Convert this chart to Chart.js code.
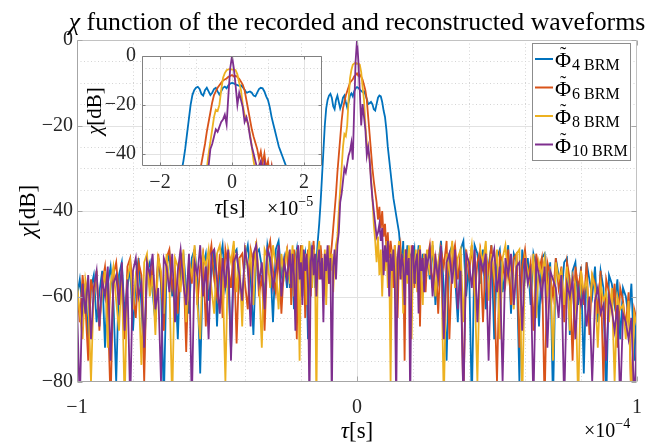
<!DOCTYPE html>
<html><head><meta charset="utf-8">
<script src="https://cdn.jsdelivr.net/npm/chart.js@4/dist/chart.umd.min.js"></script>
<style>
html,body{margin:0;padding:0;background:#fff;}
#wrap{position:relative;width:646px;height:443px;overflow:hidden;}
canvas{position:absolute;left:0;top:0;}
</style></head><body>
<div id="wrap"><canvas id="main" width="646" height="443"></canvas><canvas id="inset" width="646" height="443"></canvas></div>
<script>
// ---- sample grid: delay tau in microseconds (1e-6 s) ----
const tauLeft = [-100,-99,-98,-97,-96,-95,-94,-93,-92,-91,-90,-89,-88,-87,-86,-85,-84,-83,-82,-81,-80,-79,-78,-77,-76,-75,-74,-73,-72,-71,-70,-69,-68,-67,-66,-65,-64,-63,-62,-61,-60,-59,-58,-57,-56,-55,-54,-53,-52,-51,-50,-49,-48,-47,-46,-45,-44,-43,-42,-41,-40,-39,-38,-37,-36,-35,-34,-33,-32,-31,-30,-29,-28,-27,-26,-25];
const tauCenter = [-24.5,-24,-23.5,-23,-22.5,-22,-21.5,-21,-20.5,-20,-19.5,-19,-18.5,-18,-17.5,-17,-16.5,-16,-15.5,-15,-14.5,-14,-13.5,-13,-12.5,-12,-11.5,-11,-10.5,-10,-9.5,-9,-8.5,-8,-7.5,-7,-6.5,-6,-5.5,-5,-4.5,-4,-3.5,-3,-2.5,-2,-1.5,-1,-0.5,0,0.5,1,1.5,2,2.5,3,3.5,4,4.5,5,5.5,6,6.5,7,7.5,8,8.5,9,9.5,10,10.5,11,11.5,12,12.5,13,13.5,14,14.5,15,15.5,16,16.5,17,17.5,18,18.5,19,19.5,20,20.5,21,21.5,22,22.5,23,23.5,24,24.5];
const tauRight = [25,26,27,28,29,30,31,32,33,34,35,36,37,38,39,40,41,42,43,44,45,46,47,48,49,50,51,52,53,54,55,56,57,58,59,60,61,62,63,64,65,66,67,68,69,70,71,72,73,74,75,76,77,78,79,80,81,82,83,84,85,86,87,88,89,90,91,92,93,94,95,96,97,98,99,100];

// ---- chi values in dB ----
const phi4Left = [-60,-56,-63,-57,-70,-58,-55,-66,-59,-54,
 -72,-57,-53,-61,-80,-55,-52,-64,-58,-53,
 -68,-56,-51,-62,-75,-54,-52,-59,-66,-51,
 -57,-85,-53,-50,-60,-55,-70,-52,-50,-58,
 -64,-51,-49,-56,-78,-53,-50,-61,-55,-49,
 -67,-52,-48,-58,-54,-73,-50,-49,-57,-62,
 -51,-48,-55,-69,-50,-49,-53,-60,-48,-52,
 -66,-49,-47,-55,-51,-58];
const phi4Center = [-52,-58,-50,-55,-63,-51,-49,-57,-53,-48,
 -60,-52,-50,-56,-70,-51,-49,-54,-48,-58,
 -52,-47,-43,-38,-32,-26,-20,-16,-14,-13,
 -12.6,-13.5,-15.5,-16.2,-14,-13,-14.5,-16,-15,-13.5,
 -13,-14.5,-15.8,-14.5,-13,-12.5,-13.2,-12,-11.3,-11,
 -11.2,-11.6,-11.9,-12.2,-12,-12.8,-13.8,-15,-14.8,-14.5,
 -15,-16.2,-16.5,-15,-13.5,-13,-13.2,-14.5,-16.5,-18,
 -21,-25,-28,-31,-34,-37,-39,-41,-43,-45,
 -49,-53,-47,-60,-52,-48,-55,-50,-65,-51,
 -49,-57,-52,-48,-61,-53,-50,-58,-54];
const phi4Right = [-50,-56,-48,-62,-53,-47,-58,-75,-50,-48,
 -55,-66,-49,-47,-60,-52,-85,-48,-50,-57,
 -49,-63,-53,-48,-70,-51,-49,-59,-54,-48,
 -64,-50,-52,-80,-49,-56,-51,-62,-50,-53,
 -67,-51,-50,-58,-52,-85,-51,-55,-60,-52,
 -51,-69,-54,-52,-62,-53,-78,-52,-56,-60,
 -53,-66,-54,-58,-85,-55,-57,-62,-56,-70,
 -58,-60,-65,-57,-75,-62];

const phi6Left = [-58,-66,-55,-62,-75,-56,-60,-54,-68,-57,
 -53,-63,-85,-55,-52,-60,-57,-70,-53,-51,
 -59,-65,-52,-55,-80,-51,-58,-53,-62,-50,
 -56,-68,-51,-49,-58,-54,-64,-50,-52,-73,
 -51,-57,-49,-62,-53,-50,-67,-52,-48,-56,
 -60,-50,-65,-49,-53,-58,-48,-71,-51,-50,
 -57,-63,-49,-52,-48,-60,-55,-68,-50,-47,
 -54,-59,-50,-64,-52,-49];
const phi6Center = [-55,-50,-62,-52,-49,-57,-70,-51,-54,-48,
 -56,-50,-65,-52,-49,-55,-60,-50,-47,-53,
 -58,-50,-56,-48,-52,-60,-50,-55,-49,-57,
 -51,-48,-44,-40,-36,-31,-27,-23,-19,-16,
 -14.5,-13,-12,-11,-10,-9.6,-9.2,-8.5,-8.2,-7.8,
 -8.4,-8.1,-8.6,-9.3,-10.5,-11.8,-14,-18,-22,-26,
 -30,-33,-35.5,-38,-42,-39,-44,-40,-46,-43,
 -49,-45,-52,-47,-50,-58,-48,-53,-65,-50,
 -48,-56,-51,-75,-49,-54,-50,-62,-48,-52,
 -58,-50,-55,-49,-67,-51,-54,-50,-59];
const phi6Right = [-52,-48,-58,-50,-64,-49,-53,-47,-70,-51,
 -48,-56,-50,-85,-49,-55,-48,-60,-52,-49,
 -66,-50,-54,-48,-58,-80,-50,-52,-57,-49,
 -62,-51,-50,-72,-53,-49,-56,-52,-68,-50,
 -54,-51,-85,-52,-55,-60,-51,-58,-53,-66,
 -52,-56,-75,-53,-58,-54,-62,-52,-69,-55,
 -57,-64,-54,-80,-56,-59,-63,-57,-72,-58,
 -61,-67,-59,-85,-63,-66];

const phi8Left = [-57,-64,-70,-56,-60,-80,-58,-55,-66,-59,
 -54,-72,-57,-53,-61,-68,-54,-85,-56,-52,
 -63,-55,-58,-76,-52,-50,-60,-55,-69,-51,
 -54,-64,-50,-57,-85,-51,-53,-59,-49,-66,
 -52,-55,-48,-62,-70,-50,-53,-49,-58,-64,
 -50,-48,-55,-80,-49,-52,-47,-59,-51,-67,
 -48,-54,-50,-62,-47,-56,-72,-49,-51,-58,
 -48,-53,-63,-50,-55,-49];
const phi8Center = [-50,-57,-52,-48,-60,-53,-49,-55,-75,-51,
 -48,-54,-50,-62,-52,-47,-53,-58,-49,-52,
 -85,-50,-47,-55,-51,-57,-49,-62,-52,-48,
 -54,-50,-59,-52,-48,-46,-40,-35,-30,-25,
 -22,-22.5,-20,-14,-9,-7,-5.8,-5.5,-5.3,-5.6,
 -5.5,-5.8,-7.5,-11,-14,-20,-24,-26,-28,-32,
 -37,-43,-47,-52,-46,-55,-49,-60,-50,-54,
 -47,-58,-51,-80,-49,-53,-48,-62,-51,-47,
 -55,-50,-64,-49,-53,-57,-48,-52,-70,-50,
 -55,-49,-59,-51,-48,-56,-62,-50,-53];
const phi8Right = [-49,-55,-47,-60,-52,-48,-85,-50,-54,-47,
 -58,-51,-49,-66,-50,-53,-48,-57,-80,-49,
 -52,-47,-61,-50,-55,-49,-70,-51,-48,-56,
 -52,-63,-50,-49,-85,-51,-54,-58,-50,-65,
 -52,-55,-51,-60,-53,-75,-52,-56,-54,-62,
 -53,-68,-55,-57,-85,-54,-59,-56,-64,-55,
 -58,-72,-57,-61,-59,-66,-58,-80,-60,-63,
 -62,-70,-61,-85,-64,-67];

const phi10Left = [-62,-85,-57,-64,-55,-70,-58,-54,-67,-56,
 -60,-53,-75,-57,-55,-62,-52,-68,-56,-85,
 -54,-51,-60,-57,-72,-52,-55,-50,-63,-58,
 -80,-51,-53,-59,-50,-66,-54,-49,-57,-62,
 -50,-85,-52,-55,-48,-60,-53,-70,-50,-49,
 -56,-64,-51,-58,-49,-75,-52,-50,-55,-61,
 -49,-53,-67,-50,-48,-57,-52,-63,-49,-51,
 -58,-54,-48,-60,-52,-56];
const phi10Center = [-53,-49,-58,-50,-55,-68,-51,-48,-56,-52,
 -62,-49,-54,-50,-58,-85,-52,-48,-55,-50,
 -60,-52,-49,-56,-51,-66,-50,-54,-48,-57,
 -51,-85,-53,-49,-56,-48,-45,-38,-36,-33,
 -30,-31,-29,-27,-26,-24,-28,-16,-5,0,
 -5,-12,-20,-15,-18,-21,-27,-25,-28,-33,
 -37,-40,-43,-46,-45,-43,-47,-44,-55,-48,
 -52,-47,-60,-50,-54,-49,-57,-85,-51,-48,
 -56,-50,-53,-62,-49,-55,-51,-85,-50,-48,
 -57,-52,-50,-64,-49,-54,-51,-59,-50];
const phi10Right = [-53,-49,-60,-51,-56,-48,-70,-52,-50,-57,
 -49,-63,-54,-85,-50,-52,-58,-49,-66,-51,
 -54,-50,-75,-52,-49,-59,-53,-80,-51,-55,
 -50,-62,-53,-52,-68,-51,-57,-54,-85,-52,
 -55,-60,-53,-72,-54,-56,-58,-65,-55,-85,
 -57,-60,-56,-70,-58,-62,-59,-67,-60,-80,
 -61,-58,-64,-62,-75,-60,-63,-68,-62,-85,
 -64,-66,-70,-65,-85,-68];

const seriesNames = ['4 BRM','6 BRM','8 BRM','10 BRM'];
const mainXTicks = [-100, 0, 100];      // µs  -> labels -1, 0, 1 (x1e-4 s)
const mainYTicks = [0, -20, -40, -60, -80];
const insetXTicks = [-20, 0, 20];       // µs  -> labels -2, 0, 2 (x1e-5 s)
const insetYTicks = [0, -20, -40];

// ---- build ----
const tau = [...tauLeft, ...tauCenter, ...tauRight];
const series = [
  [...phi4Left, ...phi4Center, ...phi4Right],
  [...phi6Left, ...phi6Center, ...phi6Right],
  [...phi8Left, ...phi8Center, ...phi8Right],
  [...phi10Left, ...phi10Center, ...phi10Right]
];
const COLORS = ['#0072BD','#D95319','#EDB120','#7E2F8E'];
const FONT = "'Liberation Serif', 'Times New Roman', serif";
const TXT = '#262626';
Chart.defaults.font.family = FONT;
Chart.defaults.color = TXT;

function datasets(lw){
  return series.map((s,i)=>({
    label: seriesNames[i],
    data: tau.map((t,k)=>({x:t, y:s[k]})),
    borderColor: COLORS[i], backgroundColor: COLORS[i],
    borderWidth: lw, pointRadius: 0, tension: 0, fill: false,
    order: 4 - i, clip: 0
  }));
}
const minus = v => (v < 0 ? '\u2212' + Math.abs(v) : String(v));
const fitX = h => s => { s.height = h; s.paddingLeft = 0; s.paddingRight = 0; };
const fitY = w => s => { s.width = w; s.paddingTop = 0; s.paddingBottom = 0; };

function drawRich(ctx, parts, cx, cy, rot, align){
  ctx.save(); ctx.translate(cx, cy); if (rot) ctx.rotate(rot);
  let w = 0;
  parts.forEach(p => { ctx.font = p.f; p.w = ctx.measureText(p.t).width; w += p.w; });
  let x = align === 'left' ? 0 : (align === 'right' ? -w : -w/2);
  ctx.textAlign = 'left'; ctx.textBaseline = 'alphabetic'; ctx.fillStyle = '#000';
  parts.forEach(p => { ctx.font = p.f; ctx.fillText(p.t, x, p.dy || 0); x += p.w; });
  ctx.restore();
}

function gridPlugin(id, xMinor, xMajor, yMinor, yMajor, fillBg){
  return {
    id,
    beforeDatasetsDraw(chart){
      const {ctx, chartArea:a, scales:{x, y}} = chart;
      ctx.save();
      if (fillBg){ ctx.fillStyle = '#fff'; ctx.fillRect(a.left, a.top, a.right - a.left, a.bottom - a.top); }
      ctx.lineWidth = 1;
      ctx.strokeStyle = '#d4d4d4'; ctx.setLineDash([1, 2.5]);
      ctx.beginPath();
      xMinor.forEach(v => { const p = Math.round(x.getPixelForValue(v)) + 0.5; ctx.moveTo(p, a.top); ctx.lineTo(p, a.bottom); });
      yMinor.forEach(v => { const p = Math.round(y.getPixelForValue(v)) + 0.5; ctx.moveTo(a.left, p); ctx.lineTo(a.right, p); });
      ctx.stroke();
      ctx.setLineDash([]); ctx.strokeStyle = '#e2e2e2';
      ctx.beginPath();
      xMajor.forEach(v => { const p = Math.round(x.getPixelForValue(v)) + 0.5; ctx.moveTo(p, a.top); ctx.lineTo(p, a.bottom); });
      yMajor.forEach(v => { const p = Math.round(y.getPixelForValue(v)) + 0.5; ctx.moveTo(a.left, p); ctx.lineTo(a.right, p); });
      ctx.stroke();
      ctx.restore();
    }
  };
}

function boxPlugin(id, xt, yt, tl, colLB, colTR){
  return {
    id,
    afterDatasetsDraw(chart){
      const {ctx, chartArea:a, scales:{x, y}} = chart;
      const L = Math.round(a.left) + 0.5, R = Math.round(a.right) - 0.5, T = Math.round(a.top) + 0.5, B = Math.round(a.bottom) - 0.5;
      ctx.save(); ctx.lineWidth = 1;
      ctx.strokeStyle = colTR; ctx.beginPath(); ctx.moveTo(L, T); ctx.lineTo(R, T); ctx.lineTo(R, B); ctx.stroke();
      ctx.strokeStyle = colLB; ctx.beginPath(); ctx.moveTo(L, T); ctx.lineTo(L, B); ctx.lineTo(R, B); ctx.stroke();
      ctx.beginPath();
      xt.forEach(v => { const p = Math.round(x.getPixelForValue(v)) + 0.5; ctx.moveTo(p, B); ctx.lineTo(p, B - tl); ctx.moveTo(p, T); ctx.lineTo(p, T + tl); });
      yt.forEach(v => { const p = Math.round(y.getPixelForValue(v)) + 0.5; ctx.moveTo(L, p); ctx.lineTo(L + tl, p); ctx.moveTo(R, p); ctx.lineTo(R - tl, p); });
      ctx.stroke();
      ctx.restore();
    }
  };
}

const mainText = {
  id: 'mainText',
  afterDraw(chart){
    const ctx = chart.ctx;
    const tParts = [{t:'\u03C7', f:"italic 22px " + FONT}, {t:' function of the recorded and reconstructed waveforms', f:"22px " + FONT}];
    let w = 0; tParts.forEach(p => { ctx.font = p.f; w += ctx.measureText(p.t).width; });
    const sz = Math.max(18, Math.min(26, 22 * 576 / w));
    tParts[0].f = "italic " + sz.toFixed(1) + "px " + FONT; tParts[1].f = sz.toFixed(1) + "px " + FONT;
    drawRich(ctx, tParts, 357, 30, 0, 'center');
    drawRich(ctx, [{t:'\u03C7', f:"italic 23px " + FONT}, {t:'[dB]', f:"23px " + FONT}], 35, 211, -Math.PI/2, 'center');
    drawRich(ctx, [{t:'\u03C4', f:"italic 23px " + FONT}, {t:'[s]', f:"23px " + FONT}], 357, 438, 0, 'center');
    drawRich(ctx, [{t:'\u00D710', f:"20px " + FONT}], 584, 437, 0, 'left');
    ctx.font = "20px " + FONT; const wx = ctx.measureText('\u00D710').width;
    drawRich(ctx, [{t:'\u22124', f:"14px " + FONT}], 584 + wx, 428, 0, 'left');
    // legend
    const bx = 532.5, by = 43.5, bw = 98, bh = 117;
    ctx.save();
    ctx.fillStyle = '#fff'; ctx.fillRect(bx, by, bw, bh);
    ctx.strokeStyle = '#8c8c8c'; ctx.lineWidth = 1; ctx.strokeRect(bx, by, bw, bh);
    const rows = [59, 87.5, 116, 144.5];
    rows.forEach((ry, i) => {
      ctx.strokeStyle = COLORS[i]; ctx.lineWidth = 2;
      ctx.beginPath(); ctx.moveTo(535, ry); ctx.lineTo(553, ry); ctx.stroke();
      ctx.fillStyle = '#000'; ctx.textAlign = 'left'; ctx.textBaseline = 'alphabetic';
      ctx.font = "22px " + FONT;
      const pw = ctx.measureText('\u03A6').width;
      ctx.fillText('\u03A6', 555, ry + 8);
      ctx.font = "19px " + FONT; ctx.textAlign = 'center';
      ctx.fillText('\u02DC', 555 + pw/2, ry + 1);
      ctx.textAlign = 'left'; ctx.font = "16px " + FONT;
      ctx.fillText(seriesNames[i], 555 + pw + 1, ry + 11);
    });
    ctx.restore();
  }
};

const insetText = {
  id: 'insetText',
  afterDraw(chart){
    const ctx = chart.ctx;
    drawRich(ctx, [{t:'\u03C7', f:"italic 21px " + FONT}, {t:'[dB]', f:"21px " + FONT}], 101, 111, -Math.PI/2, 'center');
    drawRich(ctx, [{t:'\u03C4', f:"italic 22px " + FONT}, {t:'[s]', f:"22px " + FONT}], 230, 214, 0, 'center');
    drawRich(ctx, [{t:'\u00D710', f:"20px " + FONT}], 267, 215, 0, 'left');
    ctx.font = "20px " + FONT; const wx = ctx.measureText('\u00D710').width;
    drawRich(ctx, [{t:'\u22125', f:"14px " + FONT}], 267 + wx, 206, 0, 'left');
  }
};

new Chart(document.getElementById('main'), {
  type: 'line',
  data: { datasets: datasets(1.8) },
  options: {
    responsive: false, animation: false, devicePixelRatio: 1,
    layout: { padding: { left: 0, right: 9, top: 40, bottom: 0 } },
    plugins: { legend: { display: false }, tooltip: { enabled: false }, title: { display: false } },
    scales: {
      x: { type: 'linear', min: -100, max: 100,
        afterBuildTicks: s => { s.ticks = mainXTicks.map(v => ({value: v})); },
        afterFit: fitX(61),
        ticks: { callback: v => minus(v / 100), font: { size: 20 }, color: TXT, padding: 14, maxRotation: 0, autoSkip: false },
        grid: { display: false, drawTicks: false }, border: { display: false } },
      y: { type: 'linear', min: -80, max: 0,
        afterBuildTicks: s => { s.ticks = mainYTicks.map(v => ({value: v})); },
        afterFit: fitY(77),
        ticks: { callback: v => minus(v), font: { size: 20 }, color: TXT, padding: 4, autoSkip: false },
        grid: { display: false, drawTicks: false }, border: { display: false } }
    }
  },
  plugins: [
    gridPlugin('mainGrid', [-80,-60,-40,-20,20,40,60,80], [0], [-75,-70,-65,-55,-50,-45,-35,-30,-25,-15,-10,-5], [-20,-40,-60], false),
    boxPlugin('mainBox', mainXTicks, mainYTicks, 5, '#a6a6a6', '#c2c2c2'),
    mainText
  ]
});

new Chart(document.getElementById('inset'), {
  type: 'line',
  data: { datasets: datasets(1.8) },
  options: {
    responsive: false, animation: false, devicePixelRatio: 1,
    layout: { padding: { left: 102, right: 324, top: 56, bottom: 247 } },
    plugins: { legend: { display: false }, tooltip: { enabled: false }, title: { display: false } },
    scales: {
      x: { type: 'linear', min: -25, max: 25,
        afterBuildTicks: s => { s.ticks = insetXTicks.map(v => ({value: v})); },
        afterFit: fitX(30),
        ticks: { callback: v => minus(v / 10), font: { size: 20 }, color: TXT, padding: 5, maxRotation: 0, autoSkip: false },
        grid: { display: false, drawTicks: false }, border: { display: false } },
      y: { type: 'linear', min: -45, max: 0,
        afterBuildTicks: s => { s.ticks = insetYTicks.map(v => ({value: v})); },
        afterFit: fitY(40),
        ticks: { callback: v => minus(v), font: { size: 20 }, color: TXT, padding: 6, autoSkip: false },
        grid: { display: false, drawTicks: false }, border: { display: false } }
    }
  },
  plugins: [
    gridPlugin('insetGrid', [-10,10], [-20,0,20], [-5,-10,-15,-25,-30,-35], [-20,-40], true),
    boxPlugin('insetBox', insetXTicks, insetYTicks, 3, '#808080', '#808080'),
    insetText
  ]
});
</script>
</body></html>
